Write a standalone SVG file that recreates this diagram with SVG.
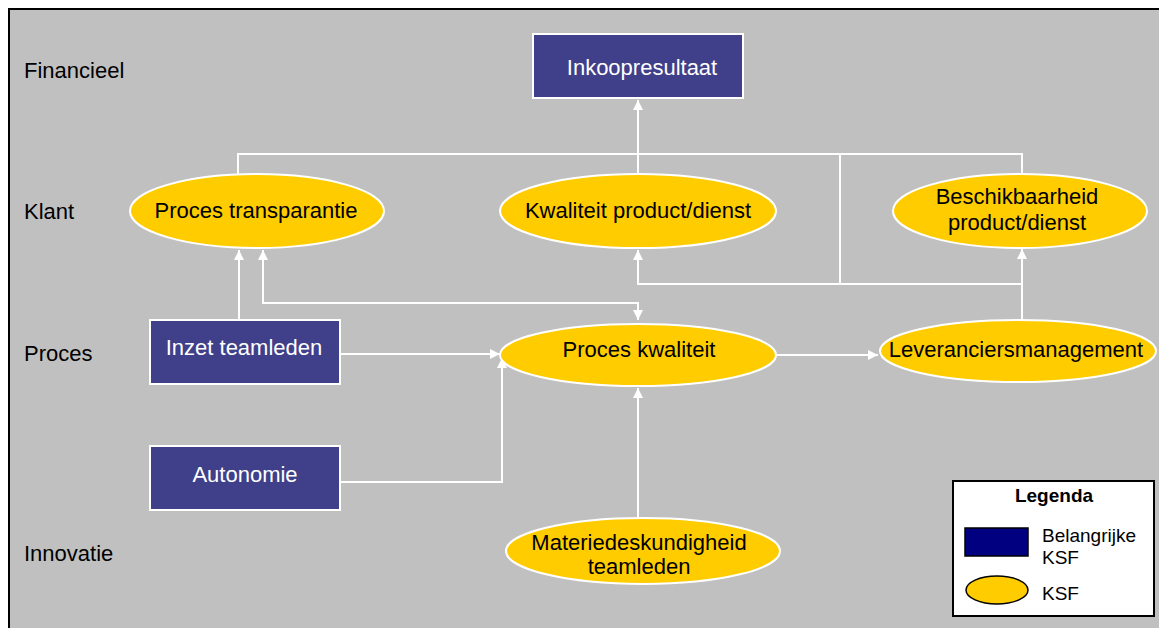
<svg xmlns="http://www.w3.org/2000/svg" width="1159" height="628" viewBox="0 0 1159 628">
  <style>
    text { font-family: "Liberation Sans", Arial, sans-serif; }
    .lane { font-size: 22px; fill: #000; }
    .ksf ellipse { fill: #FFCC00; stroke: #FFFFFF; stroke-width: 2; }
    .ksf text { font-size: 22px; fill: #000; text-anchor: middle; }
    .key rect { fill: #40408A; stroke: #FFFFFF; stroke-width: 2; }
    .key text { font-size: 22px; fill: #FFFFFF; text-anchor: middle; }
    .conn path { fill: none; stroke: #FFFFFF; stroke-width: 2; }
    .legend text { font-size: 19px; fill: #000; }
  </style>
  <defs>
    <marker id="arrow" viewBox="0 0 10 10" refX="10" refY="5" markerWidth="10" markerHeight="10" markerUnits="userSpaceOnUse" orient="auto">
      <path d="M0,0 L10,5 L0,10 Z" fill="#FFFFFF"/>
    </marker>
    <marker id="arrowStart" viewBox="0 0 10 10" refX="0" refY="5" markerWidth="10" markerHeight="10" markerUnits="userSpaceOnUse" orient="auto">
      <path d="M10,0 L0,5 L10,10 Z" fill="#FFFFFF"/>
    </marker>
  </defs>

  <!-- canvas -->
  <rect x="0" y="0" width="1159" height="628" fill="#FFFFFF"/>
  <rect x="9" y="9" width="1160" height="630" fill="#C0C0C0" stroke="#000000" stroke-width="2"/>

  <!-- perspective lanes -->
  <g id="lanes">
    <text class="lane" x="24" y="78">Financieel</text>
    <text class="lane" x="24" y="219">Klant</text>
    <text class="lane" x="24" y="361">Proces</text>
    <text class="lane" x="24" y="561">Innovatie</text>
  </g>

  <!-- connectors -->
  <g id="connectors" class="conn">
    <path d="M638,174 V100" marker-end="url(#arrow)"/>
    <path d="M238,174 V154 H1022 V174"/>
    <path d="M840,154 V284"/>
    <path d="M1022,321 V249" marker-end="url(#arrow)"/>
    <path d="M1022,284 H638 V250" marker-end="url(#arrow)"/>
    <path d="M263,250 V303 H638 V320" marker-start="url(#arrowStart)" marker-end="url(#arrow)"/>
    <path d="M239,320 V250" marker-end="url(#arrow)"/>
    <path d="M340,354 H500" marker-end="url(#arrow)"/>
    <path d="M340,482 H502 V358" marker-end="url(#arrow)"/>
    <path d="M776,355 H878" marker-end="url(#arrow)"/>
    <path d="M638,518 V388" marker-end="url(#arrow)"/>
  </g>

  <!-- nodes -->
  <g id="inkoopresultaat" class="key">
    <rect x="533" y="34" width="210" height="64"/>
    <text x="642" y="75">Inkoopresultaat</text>
  </g>

  <g id="proces-transparantie" class="ksf">
    <ellipse cx="257" cy="211" rx="127" ry="37"/>
    <text x="256" y="218">Proces transparantie</text>
  </g>

  <g id="kwaliteit" class="ksf">
    <ellipse cx="638" cy="211" rx="138" ry="37"/>
    <text x="638" y="218">Kwaliteit product/dienst</text>
  </g>

  <g id="beschikbaarheid" class="ksf">
    <ellipse cx="1020" cy="211" rx="127" ry="37"/>
    <text x="1017" y="204">Beschikbaarheid</text>
    <text x="1017" y="230">product/dienst</text>
  </g>

  <g id="inzet-teamleden" class="key">
    <rect x="150" y="320" width="190" height="64"/>
    <text x="244" y="355">Inzet teamleden</text>
  </g>

  <g id="proces-kwaliteit" class="ksf">
    <ellipse cx="638" cy="355" rx="138" ry="31"/>
    <text x="639" y="357">Proces kwaliteit</text>
  </g>

  <g id="leveranciersmanagement" class="ksf">
    <ellipse cx="1018" cy="351" rx="138" ry="31"/>
    <text x="1016" y="357">Leveranciersmanagement</text>
  </g>

  <g id="autonomie" class="key">
    <rect x="150" y="446" width="190" height="64"/>
    <text x="245" y="482">Autonomie</text>
  </g>

  <g id="materiedeskundigheid" class="ksf">
    <ellipse cx="643" cy="551" rx="137" ry="33"/>
    <text x="639" y="550">Materiedeskundigheid</text>
    <text x="639" y="574">teamleden</text>
  </g>

  <!-- legend -->
  <g id="legenda" class="legend">
    <rect x="953" y="481" width="201" height="135" fill="#FFFFFF" stroke="#000000" stroke-width="2"/>
    <text x="1054" y="502" text-anchor="middle" font-weight="bold">Legenda</text>
    <rect x="965" y="528" width="63" height="28" fill="#000080" stroke="#000000" stroke-width="1.5"/>
    <text x="1042" y="542">Belangrijke</text>
    <text x="1042" y="564">KSF</text>
    <ellipse cx="997" cy="590" rx="31" ry="14" fill="#FFCC00" stroke="#000000" stroke-width="1.5"/>
    <text x="1042" y="600">KSF</text>
  </g>
</svg>
